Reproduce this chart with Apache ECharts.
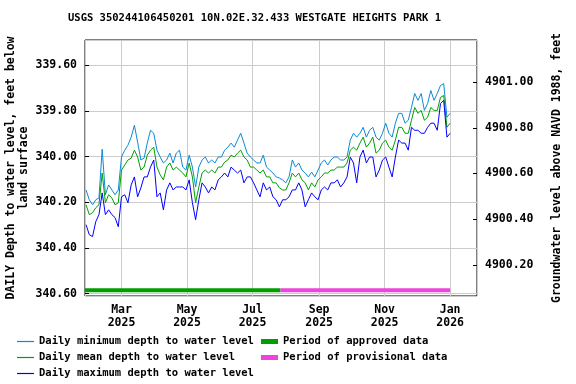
<!DOCTYPE html>
<html>
<head>
<meta charset="utf-8">
<script src="https://cdn.jsdelivr.net/npm/echarts@6/dist/echarts.min.js"></script>
<style>
  html, body { margin: 0; padding: 0; background: #fff; }
  #main { width: 576px; height: 384px; }
</style>
</head>
<body>
<div id="main"></div>
<script>
// daily values, read every 3 days starting 2025-01-27 (depth below land surface, ft)
const startDay = [2025, 0, 27];
const stepDays = 3;

const minDepth = [
  340.146, 340.189, 340.211, 340.189, 340.181, 339.968, 340.167, 340.124, 340.146, 340.167,
  340.146, 340.002, 339.972, 339.950, 339.915, 339.863, 339.937, 340.015, 340.007, 339.941,
  339.885, 339.898, 339.972, 340.002, 340.028, 340.015, 339.985, 340.028, 339.985, 339.972,
  340.046, 340.059, 339.994, 340.046, 340.133, 340.046, 340.015, 340.002, 340.028, 340.015,
  340.028, 340.002, 340.002, 339.972, 339.959, 339.941, 339.959, 339.928, 339.898, 339.941,
  339.985, 340.002, 340.015, 340.028, 340.028, 339.994, 340.046, 340.059, 340.072, 340.089,
  340.094, 340.102, 340.115, 340.089, 340.015, 340.046, 340.028, 340.059, 340.072, 340.089,
  340.068, 340.089, 340.059, 340.028, 340.015, 340.037, 340.015, 340.002, 340.002, 340.015,
  340.015, 340.002, 339.928, 339.898, 339.915, 339.898, 339.872, 339.915, 339.885, 339.872,
  339.915, 339.928, 339.898, 339.854, 339.898, 339.915, 339.854, 339.811, 339.811, 339.854,
  339.841, 339.785, 339.724, 339.754, 339.724, 339.798, 339.768, 339.711, 339.754, 339.724,
  339.689, 339.681, 339.828, 339.811
];

const meanDepth = [
  340.211, 340.254, 340.246, 340.224, 340.211, 340.072, 340.202, 340.167, 340.181, 340.211,
  340.202, 340.059, 340.037, 340.015, 340.007, 339.972, 340.002, 340.059, 340.046, 339.994,
  339.972, 339.959, 340.046, 340.080, 340.102, 340.046, 340.028, 340.059, 340.046, 340.059,
  340.072, 340.089, 340.028, 340.089, 340.202, 340.133, 340.072, 340.059, 340.072, 340.059,
  340.072, 340.046, 340.046, 340.024, 340.015, 339.994, 340.002, 339.985, 339.972, 340.002,
  340.015, 340.046, 340.046, 340.059, 340.072, 340.059, 340.089, 340.089, 340.115, 340.115,
  340.137, 340.146, 340.146, 340.115, 340.072, 340.089, 340.072, 340.102, 340.115, 340.146,
  340.115, 340.133, 340.102, 340.089, 340.072, 340.072, 340.059, 340.059, 340.046, 340.046,
  340.046, 340.028, 339.972, 339.959, 339.972, 339.941, 339.915, 339.959, 339.941, 339.915,
  339.985, 339.972, 339.941, 339.928, 339.959, 339.972, 339.928, 339.872, 339.872, 339.898,
  339.898, 339.841, 339.785, 339.811, 339.798, 339.841, 339.828, 339.785, 339.798, 339.798,
  339.741, 339.733, 339.872, 339.854
];

const maxDepth = [
  340.298, 340.342, 340.350, 340.285, 340.254, 340.159, 340.254, 340.233, 340.254, 340.267,
  340.307, 340.176, 340.167, 340.202, 340.124, 340.089, 340.176, 340.137, 340.089, 340.089,
  340.046, 340.015, 340.176, 340.159, 340.233, 340.146, 340.115, 340.146, 340.133, 340.133,
  340.133, 340.146, 340.102, 340.202, 340.276, 340.189, 340.115, 340.133, 340.159, 340.133,
  340.146, 340.102, 340.089, 340.072, 340.089, 340.046, 340.059, 340.072, 340.059, 340.115,
  340.089, 340.089, 340.115, 340.146, 340.176, 340.115, 340.146, 340.133, 340.176, 340.189,
  340.220, 340.189, 340.189, 340.176, 340.146, 340.146, 340.115, 340.146, 340.220, 340.189,
  340.159, 340.176, 340.189, 340.146, 340.133, 340.146, 340.115, 340.115, 340.102, 340.133,
  340.115, 340.089, 340.002, 340.028, 340.115, 340.002, 339.972, 340.028, 340.002, 340.002,
  340.089, 340.059, 340.015, 340.002, 340.046, 340.089, 340.002, 339.928, 339.941, 339.941,
  339.972, 339.872, 339.885, 339.885, 339.898, 339.898, 339.872, 339.854, 339.854, 339.885,
  339.768, 339.754, 339.915, 339.898
];

const approvedPeriod = [[2025, 0, 26], [2025, 6, 27]];
const provisionalPeriod = [[2025, 6, 27], [2026, 0, 1]];
const monthNames = ['Jan', 'Feb', 'Mar', 'Apr', 'May', 'Jun', 'Jul', 'Aug', 'Sep', 'Oct', 'Nov', 'Dec'];

// land surface datum: elevation = datum - depth
const landSurface = 5240.674;
const depthMin = 339.49, depthMax = 340.61;

const day = (a) => new Date(a[0], a[1], a[2]).getTime();
const dates = minDepth.map((_, i) => new Date(startDay[0], startDay[1], startDay[2] + i * stepDays).getTime());
const pair = (arr) => arr.map((v, i) => [dates[i], v]);

const font = 'DejaVu Sans Mono';
const axisFont = 11.5;
const barLevel = 340.585;

const chart = echarts.init(document.getElementById('main'), null, { renderer: 'canvas' });
chart.setOption({
  animation: false,
  backgroundColor: '#fff',
  textStyle: { fontFamily: font, fontWeight: 'bold', color: '#000' },
  title: {
    text: 'USGS 350244106450201 10N.02E.32.433 WESTGATE HEIGHTS PARK 1',
    left: 68, top: 13, padding: 0,
    textStyle: { fontFamily: font, fontWeight: 'bold', fontSize: 10.5, color: '#000' }
  },
  grid: {
    left: 85, right: 99, top: 40, bottom: 88,
    show: true, borderColor: '#000', borderWidth: 1,
    containLabel: false, outerBoundsMode: 'none'
  },
  legend: [
    {
      left: 17, top: 336, height: 48, padding: 0, orient: 'vertical', itemGap: 5,
      icon: 'rect', itemWidth: 17, itemHeight: 1.2,
      textStyle: { fontFamily: font, fontWeight: 'bold', fontSize: 10.5, color: '#000' },
      data: ['Daily minimum depth to water level', 'Daily mean depth to water level', 'Daily maximum depth to water level']
    },
    {
      left: 261, top: 336, height: 48, padding: 0, orient: 'vertical', itemGap: 5,
      icon: 'rect', itemWidth: 17, itemHeight: 5,
      textStyle: { fontFamily: font, fontWeight: 'bold', fontSize: 10.5, color: '#000' },
      data: ['Period of approved data', 'Period of provisional data']
    }
  ],
  xAxis: {
    type: 'time',
    min: day([2025, 0, 26]),
    max: day([2026, 0, 26]),
    splitNumber: 6,
    minInterval: 59 * 86400000,
    maxInterval: 62 * 86400000,
    axisLine: { show: false },
    axisTick: { show: false },
    splitLine: { show: true, lineStyle: { color: '#cccccc', width: 1 } },
    axisLabel: {
      fontFamily: font, fontWeight: 'bold', fontSize: axisFont, color: '#000',
      margin: 8, lineHeight: 13, hideOverlap: false,
      showMinLabel: false, showMaxLabel: false,
      formatter: (v) => { const d = new Date(v); return monthNames[d.getMonth()] + '\n' + d.getFullYear(); }
    }
  },
  yAxis: [
    {
      type: 'value', inverse: true, min: depthMin, max: depthMax, splitNumber: 5,
      name: 'DAILY Depth to water level, feet below\nland surface',
      nameLocation: 'middle', nameGap: 54, nameRotate: 90, nameMoveOverlap: false,
      nameTextStyle: { fontFamily: font, fontWeight: 'bold', fontSize: axisFont, color: '#000', lineHeight: 13 },
      axisLine: { show: false },
      axisTick: { show: true, inside: true, length: 4, lineStyle: { color: '#000' } },
      splitLine: { show: true, lineStyle: { color: '#cccccc', width: 1 } },
      axisLabel: {
        fontFamily: font, fontWeight: 'bold', fontSize: axisFont, color: '#000', margin: 8,
        showMinLabel: false, showMaxLabel: false,
        formatter: (v) => v.toFixed(2)
      }
    },
    {
      type: 'value', min: landSurface - depthMax, max: landSurface - depthMin, splitNumber: 5,
      name: 'Groundwater level above NAVD 1988, feet',
      nameLocation: 'middle', nameGap: 74, nameRotate: 90, nameMoveOverlap: false,
      nameTextStyle: { fontFamily: font, fontWeight: 'bold', fontSize: axisFont, color: '#000' },
      axisLine: { show: false },
      axisTick: { show: true, inside: true, length: 4, lineStyle: { color: '#000' } },
      splitLine: { show: false },
      axisLabel: {
        fontFamily: font, fontWeight: 'bold', fontSize: axisFont, color: '#000', margin: 8,
        showMinLabel: false, showMaxLabel: false,
        formatter: (v) => v.toFixed(2)
      }
    }
  ],
  series: [
    {
      name: 'Daily minimum depth to water level', type: 'line', yAxisIndex: 0,
      data: pair(minDepth), symbol: 'none',
      lineStyle: { color: '#0a8bd4', width: 1 }, itemStyle: { color: '#0a8bd4' }
    },
    {
      name: 'Daily mean depth to water level', type: 'line', yAxisIndex: 0,
      data: pair(meanDepth), symbol: 'none',
      lineStyle: { color: '#00a000', width: 1 }, itemStyle: { color: '#00a000' }
    },
    {
      name: 'Daily maximum depth to water level', type: 'line', yAxisIndex: 0,
      data: pair(maxDepth), symbol: 'none',
      lineStyle: { color: '#0000ff', width: 1 }, itemStyle: { color: '#0000ff' }
    },
    {
      name: 'Period of approved data', type: 'line', yAxisIndex: 0,
      data: approvedPeriod.map((d) => [day(d), barLevel]), symbol: 'none',
      lineStyle: { color: '#009e00', width: 4 }, itemStyle: { color: '#009e00' }
    },
    {
      name: 'Period of provisional data', type: 'line', yAxisIndex: 0,
      data: provisionalPeriod.map((d) => [day(d), barLevel]), symbol: 'none',
      lineStyle: { color: '#ee44dd', width: 4 }, itemStyle: { color: '#ee44dd' }
    }
  ]
});
</script>
</body>
</html>
